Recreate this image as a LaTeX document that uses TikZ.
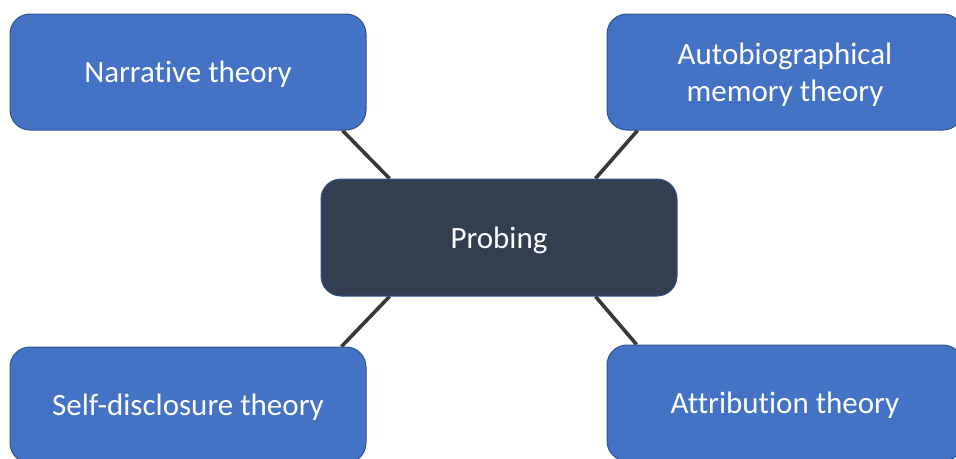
\documentclass[tikz,border=0pt]{standalone}
\usepackage{fontspec}
\setmainfont{Carlito}[Ligatures={NoCommon}]
\usetikzlibrary{calc,backgrounds}
\definecolor{boxblue}{HTML}{4472C4}
\definecolor{boxedge}{HTML}{2F528F}
\definecolor{navy}{HTML}{333F50}
\definecolor{linkgray}{HTML}{383838}
\tikzset{
  theory/.style={draw=boxedge, line width=1pt, fill=boxblue, rounded corners=20pt,
    minimum width=356pt, minimum height=116pt, inner sep=0pt, text=white,
    font=\fontsize{31}{37}\selectfont, align=center, text depth=0pt},
  hub/.style={theory, fill=navy, minimum height=117pt},
  link/.style={draw=linkgray, line width=3.6pt}
}
\begin{document}
\begin{tikzpicture}[x=1pt,y=-1pt]
\useasboundingbox (0,0) rectangle (956,458);
\clip (0,0) rectangle (956,458);
\node[theory] (tl) at (188,72) {Narrative theory};
\node[theory] (tr) at (785,72) {Autobiographical\\memory theory};
\node[hub] (c) at (499,237.5) {Probing};
\node[theory] (bl) at (188,405) {Self-disclosure theory};
\node[theory] (br) at (785,403) {Attribution theory};
\begin{pgfonlayer}{background}
\draw[link] ($(tl.south east)+(-24,0)$) -- ($(c.north west)+(69,0)$);
\draw[link] ($(tr.south west)+(31,0)$) -- ($(c.north east)+(-82,0)$);
\draw[link] ($(c.south west)+(69,0)$) -- ($(bl.north east)+(-25,0)$);
\draw[link] ($(c.south east)+(-82,0)$) -- ($(br.north west)+(30,0)$);
\end{pgfonlayer}
\end{tikzpicture}
\end{document}
